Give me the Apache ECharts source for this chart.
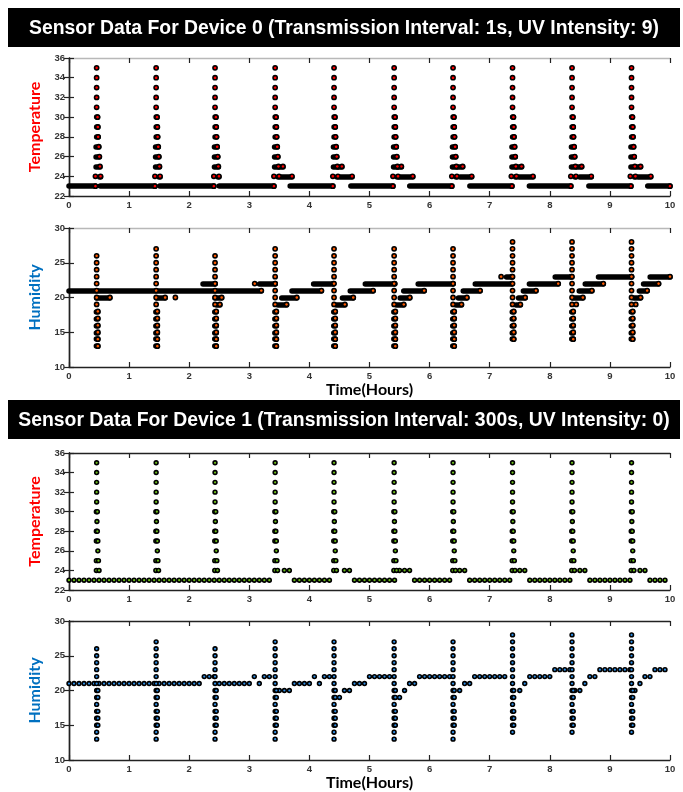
<!DOCTYPE html>
<html>
<head>
<meta charset="utf-8">
<script src="https://cdn.jsdelivr.net/npm/echarts@6/dist/echarts.min.js"></script>
<style>
html, body { margin: 0; padding: 0; background: #fff; }
#chart { width: 683px; height: 792px; }
</style>
</head>
<body>
<div id="chart"></div>
<script>
// ---------- values ----------
const title0 = 'Sensor Data For Device 0 (Transmission Interval: 1s, UV Intensity: 9)'
const title1 = 'Sensor Data For Device 1 (Transmission Interval: 300s, UV Intensity: 0)'

// hours at which the UV bursts show up (same for both devices)
const spikeTimes = [0.46, 1.45, 2.43, 3.43, 4.41, 5.41, 6.39, 7.38, 8.37, 9.36]

// device 0, 1 s sampling: dense runs [from, to, value]
const tempRuns0 = [
  [0, 0.44, 23], [0.52, 1.43, 23], [1.51, 2.41, 23], [2.50, 3.41, 23],
  [3.50, 3.56, 25], [3.53, 3.71, 24], [3.68, 4.39, 23],
  [4.48, 4.54, 25], [4.51, 4.71, 24], [4.69, 5.39, 23],
  [5.47, 5.53, 25], [5.50, 5.72, 24], [5.67, 6.37, 23],
  [6.47, 6.55, 25], [6.51, 6.70, 24], [6.67, 7.37, 23],
  [7.45, 7.53, 25], [7.49, 7.72, 24], [7.66, 8.35, 23],
  [8.45, 8.53, 25], [8.50, 8.69, 24], [8.65, 9.35, 23],
  [9.45, 9.51, 25], [9.47, 9.68, 24], [9.63, 10.0, 23]
]
// burst column shape: [value, offset from, offset to] in hours
const tempBurst0 = [
  [35, 0, 0], [34, 0, 0], [33, 0, 0], [32, 0, 0], [31, 0, 0],
  [30, 0, 0.015], [29, 0, 0.02], [28, 0, 0.025], [27, -0.01, 0.035],
  [26, -0.01, 0.045], [25, -0.01, 0.055], [24, -0.02, -0.02], [24, 0.05, 0.065]
]
const humRuns0 = [
  [0, 3.20, 21],
  [0.46, 0.68, 20],
  [1.46, 1.60, 20], [1.77, 1.77, 20],
  [2.23, 2.43, 22], [2.43, 2.54, 20], [2.46, 2.51, 19],
  [3.09, 3.09, 22], [3.17, 3.43, 22],
  [3.48, 3.62, 19], [3.54, 3.79, 20], [3.71, 4.20, 21], [4.07, 4.40, 22],
  [4.45, 4.59, 19], [4.55, 4.73, 20], [4.68, 5.06, 21], [4.93, 5.42, 22],
  [5.45, 5.57, 19], [5.51, 5.67, 20], [5.57, 5.91, 21], [5.81, 6.39, 22],
  [6.44, 6.53, 19], [6.48, 6.62, 20], [6.56, 6.84, 21], [6.76, 7.37, 22], [7.19, 7.19, 23], [7.28, 7.37, 23],
  [7.44, 7.51, 19], [7.48, 7.59, 20], [7.56, 7.77, 21], [7.66, 8.14, 22], [8.09, 8.36, 23],
  [8.44, 8.44, 19], [8.38, 8.55, 20], [8.49, 8.70, 21], [8.59, 8.89, 22], [8.81, 9.36, 23],
  [9.43, 9.43, 19], [9.40, 9.51, 20], [9.49, 9.62, 21], [9.56, 9.81, 22], [9.67, 10.0, 23]
]
// humidity values seen in each burst column
const humBurstLevels = [
  [26, 25, 24, 23, 22, 21, 20, 19, 18, 17, 16, 15, 14, 13],
  [27, 26, 25, 24, 23, 22, 21, 20, 19, 18, 17, 16, 15, 14, 13],
  [26, 25, 24, 23, 22, 21, 20, 19, 18, 17, 16, 15, 14, 13],
  [27, 26, 25, 24, 23, 22, 21, 20, 19, 18, 17, 16, 15, 14, 13],
  [27, 26, 25, 24, 23, 22, 21, 20, 19, 18, 17, 16, 15, 14, 13],
  [27, 26, 25, 24, 23, 22, 21, 20, 19, 18, 17, 16, 15, 14, 13],
  [27, 26, 25, 24, 23, 22, 21, 20, 19, 18, 17, 16, 15, 14, 13],
  [28, 27, 26, 25, 24, 23, 22, 21, 20, 19, 18, 17, 16, 15, 14],
  [28, 27, 26, 25, 24, 23, 22, 21, 20, 19, 18, 17, 16, 15, 14],
  [28, 27, 26, 25, 24, 23, 22, 21, 20, 19, 18, 17, 16, 15, 14]
]

// device 1, one sample every 300 s (12 per hour, one row per hour)
const sampleHours = 300 / 3600
const temp1 = [
  23, 23, 23, 23, 23, 23, 23, 23, 23, 23, 23, 23,
  23, 23, 23, 23, 23, 23, 23, 23, 23, 23, 23, 23,
  23, 23, 23, 23, 23, 23, 23, 23, 23, 23, 23, 23,
  23, 23, 23, 23, 23, null, null, 24, 24, 23, 23, 23,
  23, 23, 23, 23, 23, null, null, 24, 24, 23, 23, 23,
  23, 23, 23, 23, 23, 23, 24, 24, 24, 23, 23, 23,
  23, 23, 23, 23, 23, null, 24, 24, 23, 23, 23, 23,
  23, 23, 23, 23, 23, null, 24, 24, 23, 23, 23, 23,
  23, 23, 23, 23, 23, null, 24, 24, 23, 23, 23, 23,
  23, 23, 23, 23, 23, null, 24, 24, 23, 23, 23, 23
]
const hum1 = [
  21, 21, 21, 21, 21, 21, 21, 21, 21, 21, 21, 21,
  21, 21, 21, 21, 21, 21, 21, 21, 21, 21, 21, 21,
  21, 21, 21, 22, 22, 22, 21, 21, 21, 21, 21, 21,
  21, 22, 21, 22, 22, null, 20, 20, 20, 21, 21, 21,
  21, 22, 21, 22, 22, null, 19, 20, 20, 21, 21, 21,
  22, 22, 22, 22, 22, null, 19, 20, 21, 21, 22, 22,
  22, 22, 22, 22, 22, null, 20, 21, 21, 22, 22, 22,
  22, 22, 22, 22, null, null, 20, 21, 22, 22, 22, 22,
  22, 23, 23, 23, 23, 20, 20, 21, 22, 22, 23, 23,
  23, 23, 23, 23, 23, 20, 21, 22, 22, 23, 23, 23
]
// burst columns of device 1: [offset in hours, value]
const tempBurst1 = [
  [0, 35], [0, 34], [0, 33], [0, 32], [0, 31], [-0.005, 30], [0.012, 30],
  [0.005, 29], [-0.005, 28], [0.012, 28], [-0.005, 27], [0.02, 27], [0.02, 26],
  [-0.005, 25], [0.03, 25], [-0.005, 24], [0.04, 24]
]
const humDoubled1 = [20, 19, 17, 16, 15]

// ---------- building the chart ----------
const panels = [
  { top: 58, height: 138, min: 22, max: 36, step: 2, name: 'Temperature', color: '#ff0000', frame: '#b8b8b8', xName: '', xGap: 0 },
  { top: 228, height: 139, min: 10, max: 30, step: 5, name: 'Humidity', color: '#0070c0', frame: '#b8b8b8', xName: 'Time(Hours)', xGap: 11 },
  { top: 453, height: 137, min: 22, max: 36, step: 2, name: 'Temperature', color: '#ff0000', frame: '#222', xName: '', xGap: 0 },
  { top: 621, height: 139, min: 10, max: 30, step: 5, name: 'Humidity', color: '#0070c0', frame: '#222', xName: 'Time(Hours)', xGap: 14 }
]
const tickFont = { fontSize: 9.5, fontWeight: 'bold', color: '#333', fontFamily: '"Liberation Sans", Arial, sans-serif' }
const nameFont = '"Lato", "Open Sans", sans-serif'

const grids = []
const xAxes = []
const yAxes = []
panels.forEach((p, g) => {
  grids.push({ left: 69, right: 13, top: p.top, height: p.height })
  const tick = { show: true, inside: true, length: 5, lineStyle: { color: '#222', width: 1.2 } }
  xAxes.push({
    type: 'value', gridIndex: g, min: 0, max: 10, interval: 1, position: 'bottom',
    axisLine: { lineStyle: { color: '#222', width: 1.4 } }, axisTick: tick,
    axisLabel: Object.assign({ margin: 4 }, tickFont), splitLine: { show: false },
    name: p.xName, nameLocation: 'middle', nameGap: p.xGap,
    nameTextStyle: { fontSize: 16, fontWeight: 'bold', color: '#000', fontFamily: nameFont }
  })
  xAxes.push({
    type: 'value', gridIndex: g, min: 0, max: 10, interval: 1, position: 'top',
    axisLine: { lineStyle: { color: p.frame, width: 1.4 } }, axisTick: tick,
    axisLabel: { show: false }, splitLine: { show: false }
  })
  yAxes.push({
    type: 'value', gridIndex: g, min: p.min, max: p.max, interval: p.step, position: 'left',
    axisLine: { show: true, lineStyle: { color: '#222', width: 1.4 } }, axisTick: tick,
    axisLabel: Object.assign({ margin: 4 }, tickFont), splitLine: { show: false },
    name: p.name, nameLocation: 'middle', nameRotate: 90, nameGap: 26,
    nameTextStyle: { fontSize: 16, fontWeight: 'bold', color: p.color, fontFamily: nameFont }
  })
  yAxes.push({
    type: 'value', gridIndex: g, min: p.min, max: p.max, interval: p.step, position: 'right',
    axisLine: { show: true, lineStyle: { color: '#222', width: 1.4 } }, axisTick: tick,
    axisLabel: { show: false }, splitLine: { show: false }
  })
})

// dense 1 s data: thick black run + the last sample on top
function denseSeries(g, segs, fill) {
  return [
    {
      type: 'lines', coordinateSystem: 'cartesian2d', xAxisIndex: 2 * g, yAxisIndex: 2 * g,
      silent: true, z: 2,
      lineStyle: { color: '#000', width: 5.5, opacity: 1, cap: 'round' },
      data: segs.filter(s => s[1] > s[0]).map(s => ({ coords: [[s[0], s[2]], [s[1], s[2]]] }))
    },
    {
      type: 'scatter', xAxisIndex: 2 * g, yAxisIndex: 2 * g, silent: true, z: 3,
      symbolSize: 4.2, itemStyle: { color: fill, borderColor: '#000', borderWidth: 1.6, opacity: 1 },
      data: segs.map(s => [s[1], s[2]])
    }
  ]
}
function sparseSeries(g, pts, fill) {
  return {
    type: 'scatter', xAxisIndex: 2 * g, yAxisIndex: 2 * g, silent: true, z: 3,
    symbolSize: 3.8, itemStyle: { color: fill, borderColor: '#000', borderWidth: 1.6, opacity: 1 },
    data: pts
  }
}

const tempSegs0 = tempRuns0.slice()
spikeTimes.forEach(t => tempBurst0.forEach(b => tempSegs0.push([t + b[1], t + b[2], b[0]])))
const humSegs0 = humRuns0.slice()
spikeTimes.forEach((t, k) => humBurstLevels[k].forEach(v => {
  humSegs0.push(v <= 18 ? [t - 0.005, t + 0.02, v] : [t, t, v])
}))

const temp1Pts = []
temp1.forEach((v, i) => { if (v != null) temp1Pts.push([i * sampleHours, v]) })
spikeTimes.forEach(t => tempBurst1.forEach(b => temp1Pts.push([t + b[0], b[1]])))
const hum1Pts = []
hum1.forEach((v, i) => { if (v != null) hum1Pts.push([i * sampleHours, v]) })
spikeTimes.forEach((t, k) => humBurstLevels[k].forEach(v => {
  hum1Pts.push([t, v])
  if (humDoubled1.includes(v)) hum1Pts.push([t + 0.02, v])
}))

// title bars
const titleFont = 'bold 20px "Liberation Sans", Arial, sans-serif'
const ctx = document.createElement('canvas').getContext('2d')
ctx.font = titleFont
const titleScale = 630 / ctx.measureText(title0).width
function titleBar(y, text) {
  return [
    { type: 'rect', shape: { x: 8, y: y, width: 672, height: 39 }, style: { fill: '#000' } },
    {
      type: 'text', x: 344, y: y + 20, scaleX: titleScale, originX: 0, originY: 0,
      style: { text: text, fill: '#fff', font: titleFont, textAlign: 'center', textVerticalAlign: 'middle', align: 'center', verticalAlign: 'middle' }
    }
  ]
}

const chart = echarts.init(document.getElementById('chart'))
chart.setOption({
  animation: false,
  backgroundColor: '#fff',
  grid: grids,
  xAxis: xAxes,
  yAxis: yAxes,
  graphic: titleBar(8, title0).concat(titleBar(400, title1)),
  series: [].concat(
    denseSeries(0, tempSegs0, '#ff0000'),
    denseSeries(1, humSegs0, '#ff5a00'),
    sparseSeries(2, temp1Pts, '#6cbf1a'),
    sparseSeries(3, hum1Pts, '#2f8fe6')
  )
})
</script>
</body>
</html>
